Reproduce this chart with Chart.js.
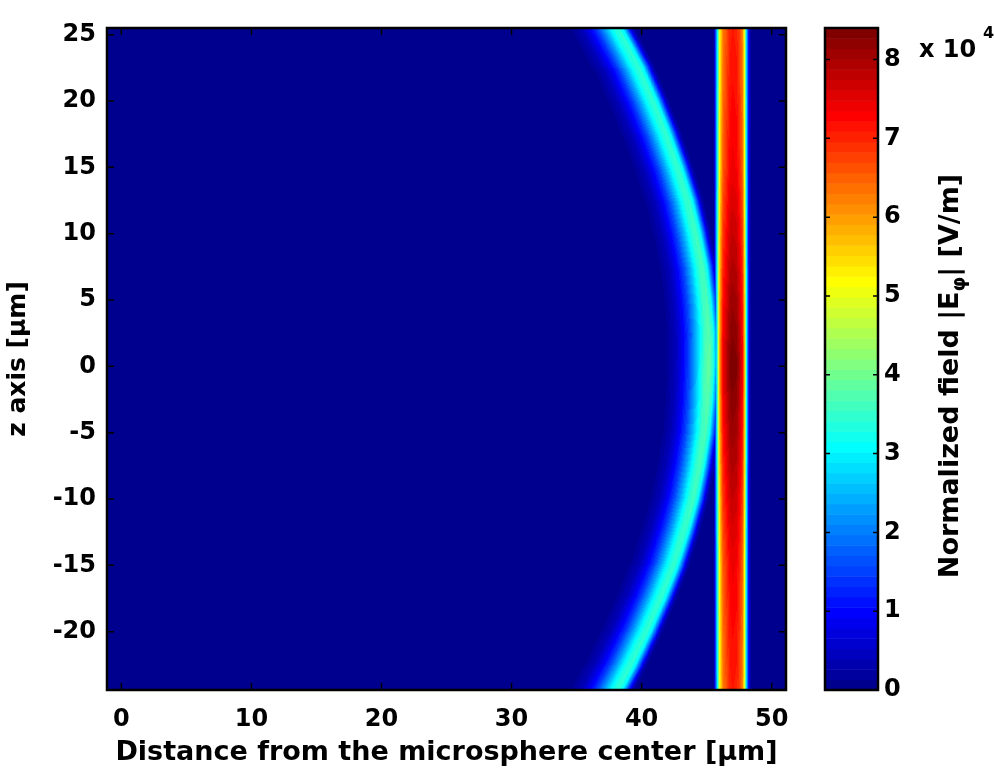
<!DOCTYPE html>
<html>
<head>
<meta charset="utf-8">
<script src="https://cdn.jsdelivr.net/npm/chart.js@4.4.1/dist/chart.umd.min.js"></script>
<style>
  html, body { margin: 0; padding: 0; background: #fff; }
  #wrap { width: 994px; height: 774px; }
</style>
</head>
<body>
<div id="wrap"><canvas id="fieldChart" width="994" height="774"></canvas></div>
<script>
// axis ranges (µm) and ticks
const xRange = [-1.1, 51.1];
const zRange = [-24.4, 25.5];
const xTicks = [0, 10, 20, 30, 40, 50];
const zTicks = [-20, -15, -10, -5, 0, 5, 10, 15, 20, 25];
const cbTicks = [0, 1, 2, 3, 4, 5, 6, 7, 8];
const cbMax = 8.4; // x 10^4 V/m

// arc (microsphere mode): peak x position read at each z
const arcZ = [25.5, 22.5, 20, 17.5, 15, 12.5, 10, 7.5, 5, 2.5, 0,
  -2.5, -5, -7.5, -10, -12.5, -15, -17.5, -20, -22.5, -24.4];
const arcX = [38.2, 39.8, 40.9, 41.9, 42.8, 43.6, 44.2, 44.7, 45.0, 45.2, 45.2,
  45.1, 44.9, 44.5, 44.0, 43.3, 42.5, 41.5, 40.4, 39.2, 38.2];
// arc cross-section: offset from peak (µm, + = outward) and relative field
const arcOffset = [-3.5, -2.5, -2.0, -1.5, -1.0, -0.6, -0.3, 0, 0.3, 0.6, 0.9, 1.2];
const arcShape = [0, 0.12, 0.25, 0.42, 0.65, 0.85, 0.96, 1.0, 0.88, 0.5, 0.14, 0];

// vertical band: cross-section along x (µm) and relative field
const bandX = [45.55, 45.8, 46.0, 46.25, 46.55, 46.8, 47.0, 47.3, 47.55, 47.75, 47.9, 48.05, 48.25, 48.45];
const bandShape = [0, 0.4, 0.72, 0.88, 0.94, 0.99, 1.0, 0.99, 0.94, 0.88, 0.72, 0.4, 0.1, 0];

// peak fields (x 10^4 V/m) along z
const ampZ = [25.5, 15, 5, 0, -5, -15, -24.4];
const arcPeak = [3.45, 3.5, 3.7, 3.9, 3.7, 3.5, 3.45];
const bandPeak = [7.1, 7.4, 8.1, 8.4, 8.1, 7.4, 7.1];
const background = 0.1;

const FONT = "'DejaVu Sans', sans-serif";

function interp(xs, ys, v) {
  const n = xs.length;
  const asc = xs[n - 1] > xs[0];
  if (asc ? v <= xs[0] : v >= xs[0]) return ys[0];
  if (asc ? v >= xs[n - 1] : v <= xs[n - 1]) return ys[n - 1];
  for (let i = 1; i < n; i++) {
    if (asc ? v <= xs[i] : v >= xs[i]) {
      const t = (v - xs[i - 1]) / (xs[i] - xs[i - 1]);
      return ys[i - 1] + t * (ys[i] - ys[i - 1]);
    }
  }
  return ys[n - 1];
}

function arcSlope(z) {
  for (let i = 1; i < arcZ.length; i++) {
    if (z >= arcZ[i] || i === arcZ.length - 1) {
      return (arcX[i] - arcX[i - 1]) / (arcZ[i] - arcZ[i - 1]);
    }
  }
  return 0;
}

// MATLAB jet(64)
function jet(t) {
  const k = Math.min(64, Math.max(1, Math.floor(t * 64) + 1));
  const v = k / 64;
  const c = (a) => Math.round(255 * Math.min(1, Math.max(0, a)));
  return [c(Math.min(4 * v - 1.5, -4 * v + 4.5)),
          c(Math.min(4 * v - 0.5, -4 * v + 3.5)),
          c(Math.min(4 * v + 0.5, -4 * v + 2.5))];
}

const heatmap = {
  id: "heatmap",
  beforeDatasetsDraw(chart) {
    const { ctx, chartArea: a, scales } = chart;
    const xs = scales.x, ys = scales.y;
    const w = Math.round(a.right - a.left), h = Math.round(a.bottom - a.top);
    const off = document.createElement("canvas");
    off.width = w; off.height = h;
    const octx = off.getContext("2d");
    const img = octx.createImageData(w, h);
    for (let j = 0; j < h; j++) {
      const z = ys.getValueForPixel(a.top + j + 0.5);
      const ax = interp(arcZ, arcX, z);
      const s = arcSlope(z);
      const perp = 1 / Math.sqrt(1 + s * s);
      const ap = interp(ampZ, arcPeak, z);
      const bp = interp(ampZ, bandPeak, z);
      for (let i = 0; i < w; i++) {
        const xv = xs.getValueForPixel(a.left + i + 0.5);
        const fa = ap * interp(arcOffset, arcShape, (xv - ax) * perp);
        const fb = bp * interp(bandX, bandShape, xv);
        const f = Math.max(background, fa, fb);
        const col = jet(f / cbMax);
        const p = (j * w + i) * 4;
        img.data[p] = col[0]; img.data[p + 1] = col[1]; img.data[p + 2] = col[2]; img.data[p + 3] = 255;
      }
    }
    octx.putImageData(img, 0, 0);
    ctx.drawImage(off, a.left, a.top);
  },
  afterDraw(chart) {
    const { ctx, chartArea: a, scales } = chart;
    const cb = scales.cb;
    const cbL = 825, cbR = 878;
    // colorbar
    for (let k = 0; k < 64; k++) {
      const y0 = cb.getPixelForValue(k * cbMax / 64);
      const y1 = cb.getPixelForValue((k + 1) * cbMax / 64);
      const col = jet((k + 0.5) / 64);
      ctx.fillStyle = "rgb(" + col.join(",") + ")";
      ctx.fillRect(cbL, y1, cbR - cbL, y0 - y1 + 0.5);
    }
    ctx.save();
    ctx.strokeStyle = "#000";
    ctx.lineWidth = 2.5;
    ctx.strokeRect(a.left, a.top, a.right - a.left, a.bottom - a.top);
    ctx.strokeRect(cbL, a.top, cbR - cbL, a.bottom - a.top);
    // inner ticks
    ctx.lineWidth = 1.5;
    ctx.beginPath();
    xTicks.forEach(v => {
      const px = scales.x.getPixelForValue(v);
      ctx.moveTo(px, a.bottom); ctx.lineTo(px, a.bottom - 7);
      ctx.moveTo(px, a.top); ctx.lineTo(px, a.top + 7);
    });
    zTicks.forEach(v => {
      const py = scales.y.getPixelForValue(v);
      ctx.moveTo(a.left, py); ctx.lineTo(a.left + 7, py);
      ctx.moveTo(a.right, py); ctx.lineTo(a.right - 7, py);
    });
    cbTicks.forEach(v => {
      const py = cb.getPixelForValue(v);
      ctx.moveTo(cbL, py); ctx.lineTo(cbL + 5, py);
      ctx.moveTo(cbR, py); ctx.lineTo(cbR - 5, py);
    });
    ctx.stroke();
    // exponent label
    ctx.fillStyle = "#000";
    ctx.textBaseline = "alphabetic";
    ctx.textAlign = "left";
    ctx.font = "bold 24px " + FONT;
    ctx.fillText("x 10", 919, 57);
    ctx.font = "bold 16px " + FONT;
    ctx.fillText("4", 983, 38);
    // colorbar title
    ctx.translate(951, 376);
    ctx.rotate(-Math.PI / 2);
    const big = "bold 27px " + FONT, small = "bold 19px " + FONT;
    const parts = [["Normalized field |E", big, 0], ["\u03c6", small, 9], ["| [V/m]", big, 0]];
    let total = 0;
    parts.forEach(p => { ctx.font = p[1]; total += ctx.measureText(p[0]).width; });
    let cx = -total / 2;
    ctx.textBaseline = "middle";
    parts.forEach(p => {
      ctx.font = p[1];
      ctx.fillText(p[0], cx, p[2]);
      cx += ctx.measureText(p[0]).width;
    });
    ctx.restore();
  }
};

const tickFont = { family: FONT, size: 24, weight: "bold" };

new Chart(document.getElementById("fieldChart").getContext("2d"), {
  type: "scatter",
  data: { datasets: [{ data: [], pointRadius: 0 }] },
  options: {
    responsive: false,
    animation: false,
    layout: { padding: { top: 28, left: 0, right: 0, bottom: 0 } },
    plugins: { legend: { display: false }, tooltip: { enabled: false } },
    scales: {
      x: {
        type: "linear", min: xRange[0], max: xRange[1],
        afterBuildTicks: (s) => { s.ticks = xTicks.map(v => ({ value: v })); },
        afterFit: (s) => { s.height = 84; s.paddingLeft = 0; s.paddingRight = 0; },
        grid: { display: false, drawTicks: false },
        border: { display: false },
        ticks: { color: "#000", font: tickFont, padding: 15, maxRotation: 0 },
        title: { display: true, text: "Distance from the microsphere center [\u00b5m]", color: "#000",
          font: { family: FONT, size: 27, weight: "bold" }, padding: { top: 0, bottom: 5 } }
      },
      y: {
        type: "linear", min: zRange[0], max: zRange[1],
        afterBuildTicks: (s) => { s.ticks = zTicks.map(v => ({ value: v })); },
        afterFit: (s) => { s.width = 107; s.paddingTop = 0; s.paddingBottom = 0; },
        grid: { display: false, drawTicks: false },
        border: { display: false },
        ticks: { color: "#000", font: tickFont, padding: 11 },
        title: { display: true, text: "z axis [\u00b5m]", color: "#000",
          font: { family: FONT, size: 25, weight: "bold" }, padding: { top: 3, bottom: 0 } }
      },
      cb: {
        type: "linear", position: "right", min: 0, max: cbMax,
        afterBuildTicks: (s) => { s.ticks = cbTicks.map(v => ({ value: v })); },
        afterFit: (s) => { s.width = 208; s.paddingTop = 0; s.paddingBottom = 0; },
        grid: { display: false, drawTicks: false },
        border: { display: false },
        ticks: { color: "#000", font: tickFont, padding: 98 }
      }
    }
  },
  plugins: [heatmap]
});
</script>
</body>
</html>
